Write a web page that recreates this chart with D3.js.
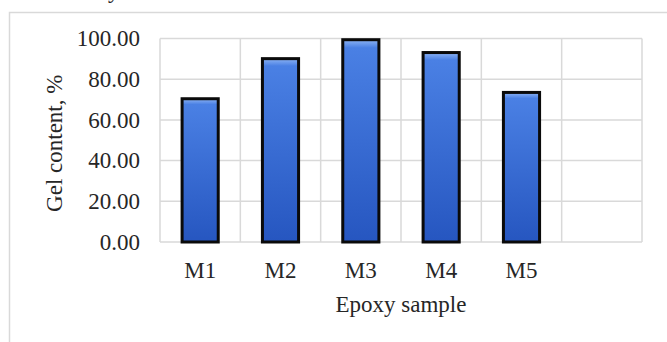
<!DOCTYPE html>
<html>
<head>
<meta charset="utf-8">
<script src="https://cdn.jsdelivr.net/npm/d3@7"></script>
<style>
html,body{margin:0;padding:0;background:#fff;overflow:hidden;}
svg{display:block;}
text{font-family:"Liberation Serif","Times New Roman",serif;fill:#262626;}
</style>
</head>
<body>
<svg id="chart" width="667" height="342"></svg>
<script>
const categories = ["M1", "M2", "M3", "M4", "M5", ""];
const values = [70.4, 90.1, 99.4, 93.1, 73.5];
const yTicks = [0, 20, 40, 60, 80, 100];
const yTitle = "Gel content, %";
const xTitle = "Epoxy sample";

const svg = d3.select("#chart");
const W = 667, H = 342;
const plot = {left: 160, right: 642, top: 38.5, bottom: 242};

// outer chart border
svg.append("rect").attr("x", 9.5).attr("y", 12.5).attr("width", W + 20).attr("height", H + 20)
  .attr("fill", "none").attr("stroke", "#d9d9d9").attr("stroke-width", 1.5);

// clipped caption fragment at top
svg.append("text").attr("x", 108).attr("y", -2).attr("font-size", 23).text("y");

const x = d3.scaleBand().domain(categories).range([plot.left, plot.right])
  .paddingInner(0.55).paddingOuter(0.275);
const y = d3.scaleLinear().domain([0, 100]).range([plot.bottom, plot.top]);

// gradient
const defs = svg.append("defs");
const g = defs.append("linearGradient").attr("id", "barGrad").attr("x1", 0).attr("y1", 0).attr("x2", 0).attr("y2", 1);
g.append("stop").attr("offset", "0%").attr("stop-color", "#8db4f5");
g.append("stop").attr("offset", "4%").attr("stop-color", "#4a80e4");
g.append("stop").attr("offset", "100%").attr("stop-color", "#2656c0");

// grid
const step = x.step();
const gridG = svg.append("g");
gridG.selectAll("line.h").data(yTicks).join("line")
  .attr("x1", plot.left).attr("x2", plot.right)
  .attr("y1", d => y(d)).attr("y2", d => y(d))
  .attr("stroke", "#d9d9d9").attr("stroke-width", 1.5);
const vb = d3.range(categories.length + 1).map(i => plot.left + i * step);
gridG.selectAll("line.v").data(vb).join("line")
  .attr("x1", d => d).attr("x2", d => d)
  .attr("y1", plot.top).attr("y2", plot.bottom)
  .attr("stroke", "#d9d9d9").attr("stroke-width", 1.5);

// bars
svg.append("g").selectAll("rect").data(values).join("rect")
  .attr("x", (d, i) => x(categories[i]))
  .attr("width", x.bandwidth())
  .attr("y", d => y(d))
  .attr("height", d => y(0) - y(d))
  .attr("fill", "url(#barGrad)")
  .attr("stroke", "#0a0a0a").attr("stroke-width", 3);

// y axis labels
const yAxis = d3.axisLeft(y).tickValues(yTicks).tickFormat(d3.format(".2f")).tickSize(0).tickPadding(20);
const ya = svg.append("g").attr("transform", `translate(${plot.left},0)`).call(yAxis);
ya.select(".domain").remove();
ya.selectAll("text").attr("font-size", 23).attr("font-family", "Liberation Serif").attr("fill", "#262626");

// x axis labels
const xAxis = d3.axisBottom(x).tickSize(0).tickPadding(20);
const xa = svg.append("g").attr("transform", `translate(0,${plot.bottom})`).call(xAxis);
xa.select(".domain").remove();
xa.selectAll("text").attr("font-size", 23).attr("font-family", "Liberation Serif").attr("fill", "#262626");

// titles
svg.append("text").attr("x", (plot.left + plot.right) / 2).attr("y", 312)
  .attr("text-anchor", "middle").attr("font-size", 23).text(xTitle);
svg.append("text").attr("transform", `translate(62,${(plot.top + plot.bottom) / 2 + 3}) rotate(-90)`)
  .attr("text-anchor", "middle").attr("font-size", 23).text(yTitle);
</script>
</body>
</html>
